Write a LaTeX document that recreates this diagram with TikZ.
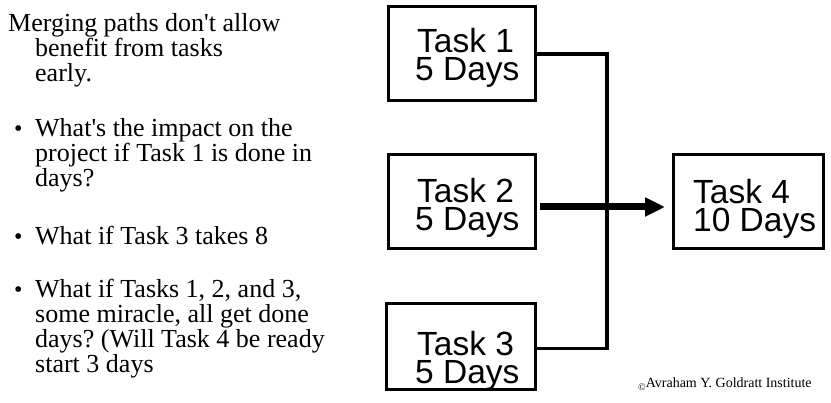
\documentclass[tikz,border=0pt]{standalone}
\usepackage{fontspec}
\setmainfont{Liberation Serif}[Ligatures=TeXOff]
\newfontfamily\arialfont{Liberation Sans}
\usetikzlibrary{arrows.meta}
\frenchspacing
\begin{document}
\begin{tikzpicture}[x=1pt,y=-1pt,
  taskbox/.style={draw=black, line width=3pt, minimum width=147pt, minimum height=94pt, inner sep=0pt},
  tasktext/.style={font=\arialfont\fontsize{33.5}{28}\selectfont, anchor=north west, inner sep=0pt, align=left},
  body/.style={font=\fontsize{26}{25}\selectfont, anchor=base west, inner sep=0pt},
  bul/.style={font=\fontsize{24}{24}\selectfont, anchor=base west, inner sep=0pt},
  conn/.style={line width=3.5pt, line join=miter},
  flow/.style={line width=7pt, -{Triangle[length=20pt,width=18pt]}},
  credit/.style={font=\fontsize{14}{14}\selectfont, anchor=base west, inner sep=0pt}]
\useasboundingbox (0,0) rectangle (831,403);

% left text
\node[body] (p1a) at (8,32) {Merging paths don't allow};
\node[body] (p1b) at (35,57) {benefit from tasks};
\node[body] (p1c) at (35,82) {early.};

\node[bul] (b1) at (14,137) {•};
\node[body] (q1a) at (35,137) {What's the impact on the};
\node[body] (q1b) at (35,162) {project if Task 1 is done in};
\node[body] (q1c) at (35,187) {days?};

\node[bul] (b2) at (14,245) {•};
\node[body] (q2a) at (35,245) {What if Task 3 takes 8};

\node[bul] (b3) at (14,298) {•};
\node[body] (q3a) at (35,298) {What if Tasks 1, 2, and 3,};
\node[body] (q3b) at (35,323) {some miracle, all get done};
\node[body] (q3c) at (35,348) {days? (Will Task 4 be ready};
\node[body] (q3d) at (35,373) {start 3 days};

% task boxes
\node[taskbox] (t1) at (462,53.5) {};
\node[taskbox] (t2) at (462,201.5) {};
\node[taskbox, minimum width=149pt, minimum height=86pt] (t3) at (461,346.5) {};
\node[taskbox, minimum width=150pt] (t4) at (748.5,201.5) {};

\node[tasktext] (t1txt) at (415,28) {\hspace*{2pt}Task 1\\5 Days};
\node[tasktext] (t2txt) at (415,178) {\hspace*{2pt}Task 2\\5 Days};
\node[tasktext] (t3txt) at (415,331) {\hspace*{2pt}Task 3\\5 Days};
\node[tasktext] (t4txt) at (693,179) {Task 4\\10 Days};

% connectors
\coordinate (j) at (607,54);
\draw[conn] (t1.east |- j) -- (j) |- ([yshift=-2pt]t3.east);
\draw[flow] ([yshift=-5.5pt,xshift=3pt]t2.east) -- ([yshift=-5.5pt,xshift=-7pt]t4.west);

\node[credit] (cr) at (638,388) {\raisebox{-2.5pt}{\fontsize{10}{10}\selectfont ©}Avraham Y. Goldratt Institute};
\end{tikzpicture}
\end{document}
